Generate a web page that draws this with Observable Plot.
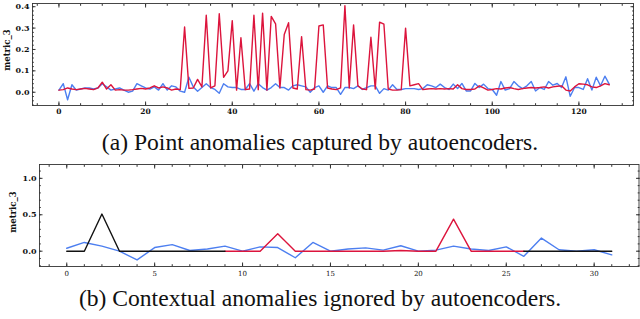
<!DOCTYPE html>
<html><head><meta charset="utf-8">
<script src="https://cdn.jsdelivr.net/npm/d3@7"></script>
<script src="https://cdn.jsdelivr.net/npm/@observablehq/plot@0.6"></script>
<style>
body{margin:0;background:#fff;width:640px;height:319px;overflow:hidden;position:relative;}
.panel{position:absolute;left:0;}
.cap{position:absolute;left:0;width:640px;text-align:center;font-family:"Liberation Serif","Times New Roman",serif;font-size:23.6px;color:#111;white-space:nowrap;line-height:26px;}
.ylab{position:absolute;width:60px;height:12px;line-height:12px;text-align:center;font-family:"DejaVu Serif",serif;font-weight:bold;font-size:8.5px;color:#111;transform:rotate(-90deg);transform-origin:50% 50%;white-space:nowrap;}
</style></head><body>
<div id="p1" class="panel" style="top:0"></div>
<div class="cap" style="top:129px">(a) Point anomalies captured by autoencoders.</div>
<div id="p2" class="panel" style="top:158px"></div>
<div class="cap" style="top:285px">(b) Contextual anomalies ignored by autoencoders.</div>
<div id="yl1" class="ylab" style="left:-23px;top:44px"></div>
<div id="yl2" class="ylab" style="left:-17px;top:206px"></div>
<script>
// ---------- data ----------
const topRed = [0.01,0.012,0.02,0.015,0.012,0.015,0.018,0.015,0.012,0.02,
0.047,0.015,0.035,0.01,0.012,0.01,0.01,0.012,0.015,0.018,
0.015,0.02,0.03,0.02,0.025,0.02,0.01,0.015,0.012,0.305,
0.018,0.02,0.06,0.025,0.36,0.02,0.03,0.367,0.07,0.10,
0.335,0.01,0.255,0.012,0.015,0.36,0.012,0.37,0.01,0.355,
0.32,0.02,0.27,0.325,0.02,0.015,0.26,0.012,0.01,0.015,
0.31,0.315,0.02,0.015,0.012,0.02,0.405,0.02,0.315,0.03,
0.015,0.012,0.257,0.015,0.328,0.318,0.015,0.01,0.01,0.012,
0.30,0.03,0.035,0.04,0.012,0.015,0.017,0.015,0.017,0.015,
0.017,0.015,0.035,0.017,0.013,0.013,0.015,0.03,0.02,0.01,
0.013,0.017,0.015,0.02,0.022,0.017,0.013,0.017,0.02,0.022,
0.02,0.022,0.025,0.02,0.025,0.028,0.03,0.01,0.006,0.025,
0.04,0.038,0.035,0.025,0.022,0.03,0.04,0.035];
const topBlue = [0.01,0.04,-0.035,0.035,0.01,0.015,0.02,0.02,0.015,0.02,
0.04,0.025,0.01,0.015,0.02,0.01,0.0,0.005,0.04,0.03,
0.02,0.015,0.025,0.01,0.04,0.01,0.03,0.025,0.005,0.0,
0.07,0.025,0.005,0.022,0.04,0.022,0.013,-0.005,0.04,0.025,
0.022,0.022,0.013,0.013,0.04,0.005,0.04,0.022,0.01,0.022,
0.04,0.022,0.022,0.01,0.03,0.035,0.03,0.025,0.0,0.022,
0.03,0.0,0.03,0.022,0.022,-0.01,0.022,0.022,0.017,0.03,
0.013,0.022,0.03,0.03,-0.005,0.017,0.01,0.035,0.013,0.013,
0.017,0.017,0.017,0.013,0.017,0.035,0.03,0.022,0.038,0.022,
0.013,0.038,0.017,0.041,0.006,0.006,0.041,0.022,0.038,0.017,
0.013,-0.014,0.05,0.01,0.017,0.05,0.03,0.017,0.03,0.05,
0.006,0.022,0.013,0.05,0.033,0.041,0.022,0.072,-0.019,0.022,
0.022,0.013,0.063,0.01,0.07,0.03,0.075,0.038];

const botBlack = [0,0,0.51,0,0,0,0,0,0,0,
null,null,null,null,null,null,null,null,null,null,
null,null,null,null,null,null,0,0,0,0,0,0];
const botRed = [null,null,null,null,null,null,null,null,null,0,
0,0,0.24,0,0,0,0,0,0,0.01,
0,0,0.44,0,0,0,0,null,null,null,null,null];
const botBlue = [0.04,0.12,0.07,0.0,-0.12,0.05,0.09,0.01,0.03,0.07,
0.0,0.06,0.05,-0.09,0.12,0.0,0.03,0.045,0.015,0.075,
0.0,0.015,0.07,0.03,0.01,0.06,-0.07,0.18,0.02,0.0,0.02,-0.05];

const topXTicks = [0,20,40,60,80,100,120];
const topYTicks = [0.0,0.1,0.2,0.3,0.4];
const botXTicks = [0,5,10,15,20,25,30];
const botYTicks = [0.0,0.5,1.0];
const yLabel = "metric_3";

const RED = "#dc143c", BLUE = "#4d7ff0", BLACK = "#111";
const FONT = "'DejaVu Serif', serif";

document.getElementById("yl1").textContent = yLabel;
document.getElementById("yl2").textContent = yLabel;

const topData = topRed.map((r, i) => ({x: i, red: r, blue: topBlue[i]}));
const botData = botBlue.map((b, i) => ({x: i, blue: b, red: botRed[i], black: botBlack[i]}));

function frameTicks(xMajor, xMinor, yMajor, yMinor) {
  const c = "#333";
  return [
    Plot.axisX(xMinor, {anchor: "bottom", tickSize: -1.8, text: null, label: null, stroke: c}),
    Plot.axisX(xMinor, {anchor: "top", tickSize: -1.8, text: null, label: null, stroke: c}),
    Plot.axisX(xMajor, {anchor: "bottom", tickSize: -3.5, text: null, label: null, stroke: c}),
    Plot.axisX(xMajor, {anchor: "top", tickSize: -3.5, text: null, label: null, stroke: c}),
    Plot.axisY(yMinor, {anchor: "left", tickSize: -1.8, text: null, label: null, stroke: c}),
    Plot.axisY(yMinor, {anchor: "right", tickSize: -1.8, text: null, label: null, stroke: c}),
    Plot.axisY(yMajor, {anchor: "left", tickSize: -3.5, text: null, label: null, stroke: c}),
    Plot.axisY(yMajor, {anchor: "right", tickSize: -3.5, text: null, label: null, stroke: c})
  ];
}

// ---------- top panel ----------
const p1 = Plot.plot({
  width: 640, height: 120,
  marginLeft: 32, marginRight: 7, marginTop: 3, marginBottom: 15,
  x: {domain: [-6.1, 132.6]},
  y: {domain: [-0.062, 0.415]},
  style: {fontFamily: FONT, background: "white", overflow: "visible", color: "#111"},
  marks: [
    Plot.line(topData, {x: "x", y: "blue", stroke: BLUE, strokeWidth: 1.4}),
    Plot.line(topData, {x: "x", y: "red", stroke: RED, strokeWidth: 1.4}),
    ...frameTicks(topXTicks, d3.range(-5, 133, 5), topYTicks, d3.range(-3, 21).map(k => k * 0.02)),
    Plot.frame({stroke: "#333", strokeWidth: 0.9}),
    Plot.axisX(topXTicks, {anchor: "bottom", tickSize: 0, tickPadding: 3.5, label: null, fontSize: 7.5, fontWeight: "bold", tickFormat: d3.format("d")}),
    Plot.axisY(topYTicks, {anchor: "left", tickSize: 0, tickPadding: 3, label: null, fontSize: 8, fontWeight: "bold", tickFormat: d3.format(".1f")})
  ]
});
document.getElementById("p1").append(p1);

// ---------- bottom panel ----------
const p2 = Plot.plot({
  width: 640, height: 128,
  marginLeft: 39, marginRight: 1.5, marginTop: 6, marginBottom: 20,
  x: {domain: [-1.55, 32.55]},
  y: {domain: [-0.21, 1.19]},
  style: {fontFamily: FONT, background: "white", overflow: "visible", color: "#111"},
  marks: [
    Plot.line(botData, {x: "x", y: "blue", stroke: BLUE, strokeWidth: 1.4}),
    Plot.line(botData, {x: "x", y: "red", stroke: RED, strokeWidth: 1.4}),
    Plot.line(botData, {x: "x", y: "black", stroke: BLACK, strokeWidth: 1.4}),
    ...frameTicks(botXTicks, d3.range(-1, 33, 1), botYTicks, d3.range(-2, 12).map(k => k * 0.1)),
    Plot.frame({stroke: "#333", strokeWidth: 0.9}),
    Plot.axisX(botXTicks, {anchor: "bottom", tickSize: 0, tickPadding: 4.5, label: null, fontSize: 7, tickFormat: d3.format("d")}),
    Plot.axisY(botYTicks, {anchor: "left", tickSize: 0, tickPadding: 3, label: null, fontSize: 8, fontWeight: "bold", tickFormat: d3.format(".1f")})
  ]
});
document.getElementById("p2").append(p2);
</script>
</body></html>
